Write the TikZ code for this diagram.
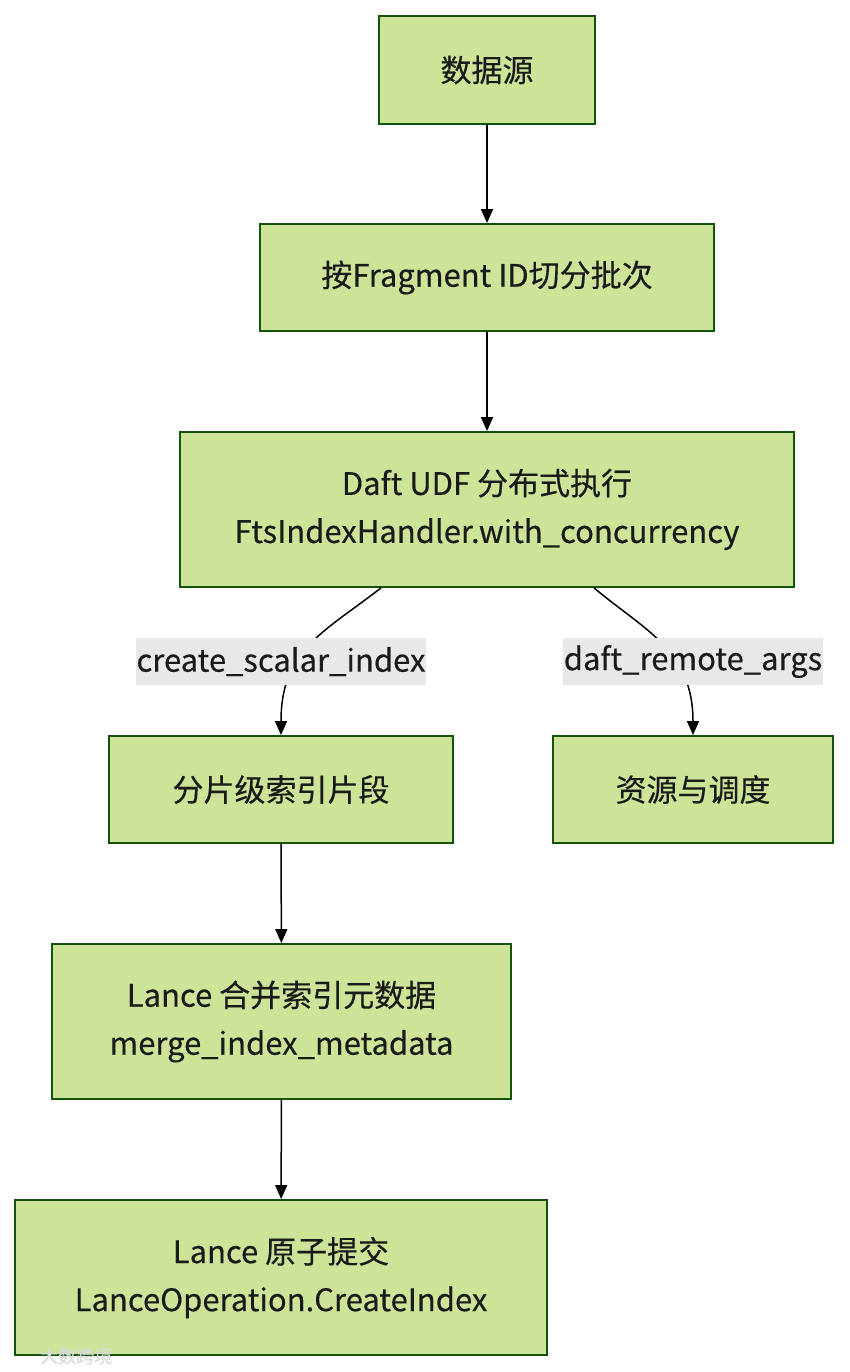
\documentclass[tikz,border=0pt]{standalone}
\usepackage{fontspec}
\setmainfont{Noto Sans CJK SC}[FakeBold=0.35]
\usetikzlibrary{arrows.meta,calc}
\definecolor{boxfill}{HTML}{CDE498}
\definecolor{boxline}{HTML}{13540C}
\definecolor{lblbg}{HTML}{E8E8E8}
\definecolor{txt}{HTML}{1A1A1A}
\begin{document}
\begin{tikzpicture}[x=1pt,y=-1pt,
  stepbox/.style={draw=boxline, fill=boxfill, line width=1.8pt, align=center,
    text=txt, font=\fontsize{31}{48}\selectfont, inner sep=0pt},
  lbl/.style={fill=lblbg, text=txt, font=\fontsize{31}{34}\selectfont,
    inner xsep=1pt, inner ysep=0pt, minimum height=47pt},
  arr/.style={line width=1.5pt, draw=black, -{Triangle[length=14pt,width=12pt]}},
  wm/.style={text=gray!30, font=\fontsize{18}{20}\selectfont, inner sep=0pt}]
\useasboundingbox (0,0) rectangle (849,1372);
\fill[white] (0,0) rectangle (849,1372);

\node[stepbox, minimum width=216pt, minimum height=108pt] (b1) at (487,70) {数据源};
\node[stepbox, minimum width=454pt, minimum height=107pt] (b2) at (487,277.5) {按Fragment ID切分批次};
\node[stepbox, minimum width=614pt, minimum height=155pt] (b3) at (487,509.5) {Daft UDF 分布式执行\\FtsIndexHandler.with\_concurrency};
\node[stepbox, minimum width=344pt, minimum height=107pt] (b4) at (281,789.5) {分片级索引片段};
\node[stepbox, minimum width=280pt, minimum height=107pt] (b5) at (693,789.5) {资源与调度};
\node[stepbox, minimum width=459pt, minimum height=155pt] (b6) at (281.5,1021.5) {Lance 合并索引元数据\\merge\_index\_metadata};
\node[stepbox, minimum width=532pt, minimum height=155pt] (b7) at (281,1277.5) {Lance 原子提交\\LanceOperation.CreateIndex};

\draw[arr] (b1) -- (b2);
\draw[arr] (b2) -- (b3);
\coordinate (s1) at ($(b3.south)+(-106,0)$);
\coordinate (s2) at ($(b3.south)+(107,0)$);
\draw[arr] (s1) .. controls ($(s1)+(-58,45)$) and ($(b4.north)+(0,-85)$) .. (b4.north);
\draw[arr] (s2) .. controls ($(s2)+(50,42)$) and ($(b5.north)+(0,-85)$) .. (b5.north);
\node[lbl] (l1) at (281,661.5) {create\_scalar\_index};
\node[lbl] (l2) at (693,661.5) {daft\_remote\_args};
\draw[arr] (b4) -- (b6);
\draw[arr] (b6) -- (b7);

\node[wm, anchor=west] (w) at (40,1356) {大数跨境};
\end{tikzpicture}
\end{document}
